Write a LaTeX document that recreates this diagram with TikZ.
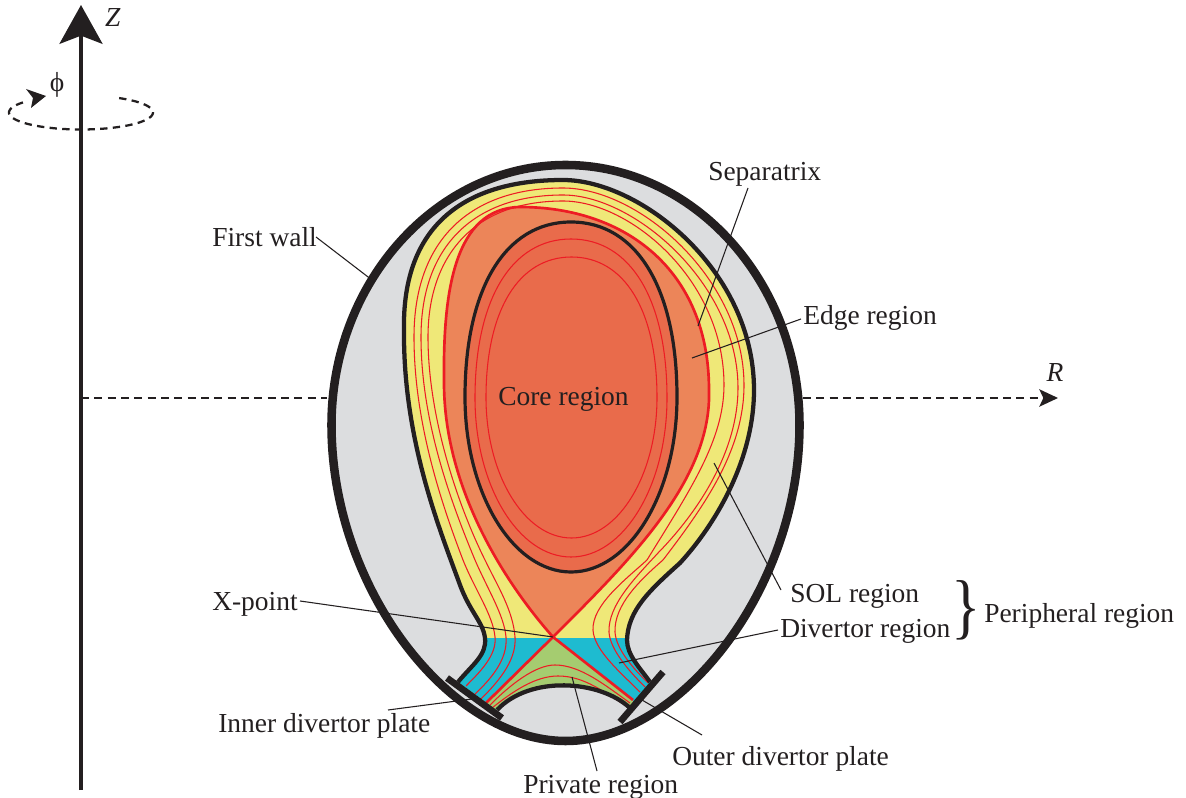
\documentclass[tikz,border=0pt]{standalone}
\usepackage{fontspec}
\usepackage{graphicx}
\setmainfont{Liberation Serif}
\usetikzlibrary{arrows.meta}
\definecolor{wallgrey}{HTML}{DCDDDF}
\definecolor{solyellow}{HTML}{EFE878}
\definecolor{divblue}{HTML}{1EBBD0}
\definecolor{privgreen}{HTML}{A5CC70}
\definecolor{edgeorange}{HTML}{EC8559}
\definecolor{coreorange}{HTML}{E96B4B}
\definecolor{fluxred}{HTML}{ED1C24}
\definecolor{inkblack}{HTML}{231F20}
\tikzset{
  lbl/.style={inner sep=0pt,text=inkblack,font=\fontsize{20.6pt}{24pt}\selectfont},
  leader/.style={draw=inkblack,line width=0.8pt},
  fluxthin/.style={draw=fluxred,line width=0.8pt},
  sepline/.style={draw=fluxred,line width=2pt},
  heavy/.style={draw=inkblack,line width=3.2pt,line join=round},
  plate/.style={draw=inkblack,line width=5pt},
  dashaxis/.style={draw=inkblack,line width=1.5pt,dash pattern=on 6pt off 4pt},
}
\newcommand{\wallshape}[1]{\path[#1] (565.5,165) .. controls (694,165) and (799.5,282) .. (799.5,425)
  .. controls (799.5,590) and (680,741) .. (565.5,741)
  .. controls (451,741) and (331.5,590) .. (331.5,425)
  .. controls (331.5,282) and (437,165) .. (565.5,165) -- cycle;}
\newcommand{\plasmaregion}[1]{\path[#1] (458,682)
  .. controls (472,665) and (487,655) .. (485,638)
  .. controls (483,622) and (470,612) .. (460,585)
  .. controls (440,530) and (403,440) .. (404,330)
  .. controls (402,225) and (465,180) .. (563,180)
  .. controls (640,180) and (754,270) .. (754,390)
  .. controls (754,460) and (715,525) .. (680,563)
  .. controls (650,590) and (628,610) .. (627,640)
  .. controls (627,655) and (640,668) .. (650,682)
  -- (630,708) .. controls (600,680) and (530,675) .. (497,710) -- cycle;}
\newcommand{\plasmaline}[1]{\path[#1] (458,682)
  .. controls (472,665) and (487,655) .. (485,638)
  .. controls (483,622) and (470,612) .. (460,585)
  .. controls (440,530) and (403,440) .. (404,330)
  .. controls (402,225) and (465,180) .. (563,180)
  .. controls (640,180) and (754,270) .. (754,390)
  .. controls (754,460) and (715,525) .. (680,563)
  .. controls (650,590) and (628,610) .. (627,640)
  .. controls (627,655) and (640,668) .. (650,682);
  \path[#1] (630,708) .. controls (600,680) and (530,675) .. (497,710);}
\newcommand{\separatrixloop}[1]{\path[#1] (553,637)
  .. controls (520,600) and (443,500) .. (444,380)
  .. controls (443,290) and (455,208) .. (520,207)
  .. controls (625,207) and (709,270) .. (709,390)
  .. controls (712,480) and (630,560) .. (553,637) -- cycle;}
\newcommand{\eggshape}[1]{\path[#1] (0,-1) .. controls (.62,-1) and (1,-.62) .. (1,0)
  .. controls (1,.55) and (.55,1) .. (0,1)
  .. controls (-.55,1) and (-1,.55) .. (-1,0)
  .. controls (-1,-.62) and (-.62,-1) .. (0,-1) -- cycle;}
\begin{document}
\begin{tikzpicture}[x=0.75pt,y=-0.75pt]
\useasboundingbox (0,0) rectangle (1186,798);

% named end points
\coordinate (ztail) at (81,790);
\coordinate (ztip) at (81,5);
\coordinate (rstart) at (81,398);
\coordinate (rleft) at (327,398);
\coordinate (rright) at (803,398);
\coordinate (rtip) at (1058,398);
\coordinate (xpt) at (553,637);
\coordinate (legl) at (486,703);
\coordinate (legr) at (633,700);
\coordinate (plA) at (447,678);
\coordinate (plB) at (502,718);
\coordinate (prA) at (663,672);
\coordinate (prB) at (620,722);

% fills
\wallshape{fill=wallgrey}
\plasmaregion{fill=solyellow}
\begin{scope}
  \plasmaregion{clip}
  \fill[divblue] (440,638) rectangle (680,730);
  \fill[privgreen] (xpt) -- (legl) -- (480,730) -- (640,730) -- (legr) -- cycle;
\end{scope}
\separatrixloop{fill=edgeorange}
\eggshape{fill=coreorange,shift={(571,397)},xscale=106,yscale=175}

% thin flux surfaces
\draw[fluxthin] (466,686) .. controls (480,672) and (497,655) .. (495,637)
  .. controls (493,615) and (475,590) .. (463,560)
  .. controls (440,500) and (414,420) .. (414,337)
  .. controls (414,240) and (470,188) .. (563,188)
  .. controls (640,188) and (744,280) .. (744,385)
  .. controls (744,450) and (705,505) .. (663,560)
  .. controls (640,580) and (614,605) .. (615,632)
  .. controls (616,650) and (635,670) .. (648,683);
\draw[fluxthin] (474,695) .. controls (490,680) and (508,660) .. (506,637)
  .. controls (504,615) and (488,590) .. (475,560)
  .. controls (450,500) and (421,420) .. (421,337)
  .. controls (421,245) and (475,195) .. (563,195)
  .. controls (635,195) and (738,285) .. (738,388)
  .. controls (738,450) and (700,510) .. (658,553)
  .. controls (635,578) and (608,605) .. (609,632)
  .. controls (610,650) and (630,672) .. (645,687);
\draw[fluxthin] (480,700) .. controls (495,685) and (517,662) .. (515,637)
  .. controls (513,610) and (497,585) .. (485,560)
  .. controls (460,510) and (428,420) .. (428,337)
  .. controls (428,260) and (470,201) .. (563,201)
  .. controls (630,201) and (724,280) .. (724,385)
  .. controls (724,440) and (690,490) .. (647,560)
  .. controls (625,580) and (592,605) .. (593,630)
  .. controls (594,650) and (620,672) .. (640,692);
\draw[fluxthin] (490,705) .. controls (510,685) and (535,665) .. (555,665) .. controls (580,665) and (605,685) .. (630,703);
\draw[fluxthin] (492,708) .. controls (512,692) and (535,676) .. (558,676) .. controls (585,676) and (605,693) .. (628,707);
\eggshape{fluxthin,shift={(571,398)},xscale=96,yscale=159}
\eggshape{fluxthin,shift={(571.5,397.5)},xscale=85.5,yscale=140.5}

% separatrix
\separatrixloop{sepline,line join=round}
\draw[sepline] (xpt) -- (legl);
\draw[sepline] (xpt) -- (legr);

% black outlines
\eggshape{draw=inkblack,line width=2.4pt,shift={(571,397)},xscale=106,yscale=175}
\plasmaline{heavy}
\wallshape{draw=inkblack,line width=6.4pt}
\draw[plate] (plA) -- (plB);
\draw[plate] (prA) -- (prB);

% axes
\draw[dashaxis] (rstart) -- (rleft);
\draw[dashaxis,-{Stealth[length=14pt,width=13pt,inset=3pt]}] (rright) -- (rtip);
\draw[inkblack,line width=1.7pt,dash pattern=on 5.5pt off 4pt] plot[domain=58:-220,samples=80] ({81+72*cos(\x)},{112.5-17*sin(\x)});
\fill[inkblack] (46,96) -- (26,89) -- (33,98) -- (31,108) -- cycle;
\draw[inkblack,line width=3.7pt,-{Stealth[length=29pt,width=32pt,inset=6pt]}] (ztail) -- (ztip);

% labels
\node[lbl,anchor=center] (zl) at (113,18) {\textit{Z}};
\node[lbl,anchor=center] (phil) at (57,85) {ϕ};
\node[lbl,anchor=center] (rl) at (1055,373) {\textit{R}};
\node[lbl,anchor=base west] (wall) at (212,247) {First wall};
\node[lbl,anchor=base west] (sepx) at (708,181) {Separatrix};
\node[lbl,anchor=base west] (edge) at (803,325) {Edge region};
\node[lbl,anchor=base west] (core) at (498,406) {Core region};
\node[lbl,anchor=base west] (sol) at (790,603) {SOL region};
\node[lbl,anchor=base west] (div) at (780,638) {Divertor region};
\node[lbl,anchor=base west] (peri) at (984,622) {Peripheral region};
\node[lbl,anchor=base west] (xp) at (212,610) {X-point};
\node[lbl,anchor=base west] (inner) at (218,732) {Inner divertor plate};
\node[lbl,anchor=base west] (outer) at (672,765) {Outer divertor plate};
\node[lbl,anchor=base west] (priv) at (523,793) {Private region};
\node[inner sep=0pt,text=inkblack] (brace) at (966,610) {\scalebox{0.85}[1]{\fontsize{54pt}{54pt}\selectfont\}}};

% leaders
\coordinate (ewall) at (372,280);
\coordinate (esep) at (698,326);
\coordinate (eedge) at (692,358);
\coordinate (esol) at (714,463);
\coordinate (ediv) at (619,663);
\coordinate (einner) at (472,699);
\coordinate (eouter) at (642,700);
\coordinate (epriv) at (572,677);
\draw[leader] (316,237) -- (ewall);
\draw[leader] (748,188) -- (esep);
\draw[leader] (801,319) -- (eedge);
\draw[leader] (781,590) -- (esol);
\draw[leader] (778,630) -- (ediv);
\draw[leader] (300,601) -- (xpt);
\draw[leader] (388,710) -- (einner);
\draw[leader] (702,735) -- (eouter);
\draw[leader] (597,771) -- (epriv);
\end{tikzpicture}
\end{document}
